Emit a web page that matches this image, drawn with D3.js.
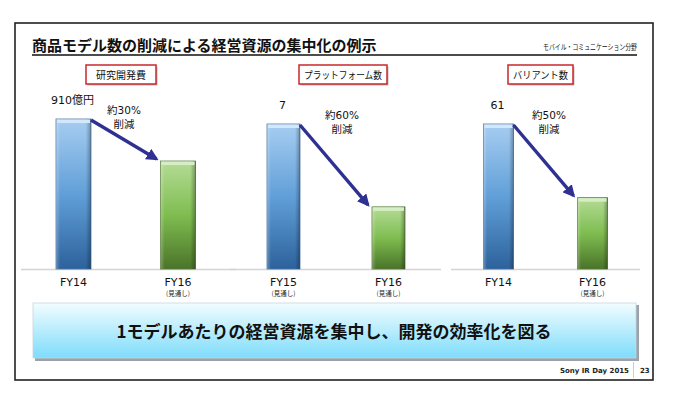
<!DOCTYPE html>
<html>
<head>
<meta charset="utf-8">
<script src="https://cdn.jsdelivr.net/npm/d3@7"></script>
<style>
  body { margin: 0; background: #fff; }
  svg { display: block; }
</style>
</head>
<body>
<svg width="673" height="394"></svg>
<script>

// chart data
var titleText = "商品モデル数の削減による経営資源の集中化の例示";
var sectionText = "モバイル・コミュニケーション分野";
var panelTitles = ["研究開発費", "プラットフォーム数", "バリアント数"];
var categories = [["FY14", "FY16"], ["FY15", "FY16"], ["FY14", "FY16"]];
var subLabels = [["", "(見通し)"], ["(見通し)", "(見通し)"], ["", "(見通し)"]];
var values = [[910, 655], [7, 3], [61, 30]];
var valueLabels = ["910億円", "7", "61"];
var reductionLabels = ["約30%", "約60%", "約50%"];
var bannerText = "1モデルあたりの経営資源を集中し、開発の効率化を図る";
var footerText = "Sony IR Day 2015";
var pageNumber = "23";

// layout for each small panel
var panels = [
  { range: [73.5, 178], top: 119, bw: 35, axis: [21, 236], box: [86, 156], note: 124 },
  { range: [283.5, 388.5], top: 124, bw: 33, axis: [230, 441], box: [299, 387], note: 342 },
  { range: [498.5, 592.5], top: 124, bw: 30, axis: [451, 640], box: [508, 573], note: 549 }
];

var svg = d3.select("svg"),
    baseY = 269,
    jp = "'Noto Sans CJK JP', sans-serif",
    latin = "'DejaVu Sans', 'Noto Sans CJK JP', sans-serif",
    arrowColor = "#2e3192";

var defs = svg.append("defs");

function vGrad(id, stops) {
  var g = defs.append("linearGradient").attr("id", id)
      .attr("x1", 0).attr("y1", 0).attr("x2", 0).attr("y2", 1);
  stops.forEach(function(s) {
    g.append("stop").attr("offset", s[0]).attr("stop-color", s[1]);
  });
}
function hGrad(id, stops) {
  var g = defs.append("linearGradient").attr("id", id)
      .attr("x1", 0).attr("y1", 0).attr("x2", 1).attr("y2", 0);
  stops.forEach(function(s) {
    g.append("stop").attr("offset", s[0]).attr("stop-color", s[1]).attr("stop-opacity", s[2]);
  });
}

vGrad("blueFill", [[0, "#a7cdf1"], [0.5, "#619fd8"], [1, "#2d629c"]]);
vGrad("greenFill", [[0, "#b4dc96"], [0.5, "#7fbd50"], [1, "#4a7429"]]);
vGrad("bannerFill", [[0, "#f2fdff"], [1, "#7edcfb"]]);
// side shading for the bevel look
hGrad("sideShade", [[0, "#ffffff", 0.25], [0.12, "#ffffff", 0.0], [0.85, "#000000", 0.0], [1, "#000000", 0.3]]);

defs.append("marker")
    .attr("id", "arrowHead")
    .attr("viewBox", "0 0 10 10")
    .attr("refX", 8).attr("refY", 5)
    .attr("markerWidth", 3.6).attr("markerHeight", 3.6)
    .attr("markerUnits", "strokeWidth")
    .attr("orient", "auto")
  .append("path")
    .attr("d", "M0,0 L10,5 L0,10 Z")
    .attr("fill", arrowColor);

// outer frame
svg.append("rect")
    .attr("x", 15).attr("y", 23)
    .attr("width", 638).attr("height", 357)
    .attr("fill", "none")
    .attr("stroke", "#222")
    .attr("stroke-width", 1.6);

// title + underline
svg.append("text")
    .attr("x", 32).attr("y", 51)
    .attr("font-family", jp)
    .attr("font-weight", "bold")
    .attr("font-size", 15)
    .attr("fill", "#111")
    .text(titleText);

svg.append("text")
    .attr("x", 637).attr("y", 50)
    .attr("text-anchor", "end")
    .attr("font-family", jp)
    .attr("font-size", 7.5)
    .attr("textLength", 94)
    .attr("lengthAdjust", "spacingAndGlyphs")
    .attr("fill", "#111")
    .text(sectionText);

svg.append("line")
    .attr("x1", 32).attr("x2", 637)
    .attr("y1", 55).attr("y2", 55)
    .attr("stroke", "#111")
    .attr("stroke-width", 1.4);

panels.forEach(function(p, i) {
  var g = svg.append("g").attr("class", "panel");

  var x = d3.scalePoint()
      .domain(categories[i])
      .range(p.range);

  var y = d3.scaleLinear()
      .domain([0, values[i][0]])
      .range([baseY, p.top]);

  // axis line
  g.append("line")
      .attr("x1", p.axis[0]).attr("x2", p.axis[1])
      .attr("y1", baseY + 0.5).attr("y2", baseY + 0.5)
      .attr("stroke", "#d4d4d4")
      .attr("stroke-width", 1.5);

  // panel title box
  var bx = g.append("g");
  bx.append("rect")
      .attr("x", p.box[0] + 1.5).attr("y", 66.5)
      .attr("width", p.box[1] - p.box[0]).attr("height", 19)
      .attr("fill", "#bbb");
  bx.append("rect")
      .attr("x", p.box[0]).attr("y", 65)
      .attr("width", p.box[1] - p.box[0]).attr("height", 19)
      .attr("fill", "#fff")
      .attr("stroke", "#c8282d")
      .attr("stroke-width", 1.5);
  var bt = bx.append("text")
      .attr("x", (p.box[0] + p.box[1]) / 2).attr("y", 78.5)
      .attr("text-anchor", "middle")
      .attr("font-family", jp)
      .attr("font-size", 10)
      .attr("fill", "#111")
      .text(panelTitles[i]);
  var avail = p.box[1] - p.box[0] - 10;
  if (bt.node().getComputedTextLength() > avail) {
    bt.attr("textLength", avail).attr("lengthAdjust", "spacingAndGlyphs");
  }

  // bars
  var bars = g.selectAll(".bar")
      .data(values[i])
      .enter().append("g")
      .attr("class", "bar");

  bars.append("rect")
      .attr("x", function(d, j) { return x(categories[i][j]) - p.bw / 2; })
      .attr("y", function(d) { return y(d); })
      .attr("width", p.bw)
      .attr("height", function(d) { return baseY - y(d); })
      .attr("fill", function(d, j) { return j === 0 ? "url(#blueFill)" : "url(#greenFill)"; })
      .attr("stroke", function(d, j) { return j === 0 ? "#4a76a3" : "#55783a"; })
      .attr("stroke-width", 0.8);

  bars.append("rect")
      .attr("x", function(d, j) { return x(categories[i][j]) - p.bw / 2; })
      .attr("y", function(d) { return y(d); })
      .attr("width", p.bw)
      .attr("height", function(d) { return baseY - y(d); })
      .attr("fill", "url(#sideShade)");

  // top bevel cap
  bars.append("rect")
      .attr("x", function(d, j) { return x(categories[i][j]) - p.bw / 2 + 1; })
      .attr("y", function(d) { return y(d) + 0.5; })
      .attr("width", p.bw - 2)
      .attr("height", 3.5)
      .attr("fill", function(d, j) { return j === 0 ? "#d3e8fb" : "#d6eec4"; });

  // category labels
  var lab = g.selectAll(".cat")
      .data(categories[i])
      .enter().append("g")
      .attr("class", "cat");

  lab.append("text")
      .attr("x", function(d) { return x(d); })
      .attr("y", 286)
      .attr("text-anchor", "middle")
      .attr("font-family", latin)
      .attr("font-size", 11)
      .attr("fill", "#111")
      .text(function(d) { return d; });

  lab.append("text")
      .attr("x", function(d) { return x(d); })
      .attr("y", 296)
      .attr("text-anchor", "middle")
      .attr("font-family", jp)
      .attr("font-size", 6.5)
      .attr("fill", "#222")
      .text(function(d, j) { return subLabels[i][j]; });

  // value label above first bar
  g.append("text")
      .attr("x", x(categories[i][0]) - 1)
      .attr("y", y(values[i][0]) - 15)
      .attr("text-anchor", "middle")
      .attr("font-family", latin)
      .attr("font-size", 11)
      .attr("fill", "#111")
      .text(valueLabels[i]);

  // reduction note, two lines
  g.append("text")
      .attr("x", p.note)
      .attr("y", y(values[i][0]) - 5)
      .attr("text-anchor", "middle")
      .attr("font-family", latin)
      .attr("font-size", 10.5)
      .attr("fill", "#111")
      .text(reductionLabels[i]);
  g.append("text")
      .attr("x", p.note)
      .attr("y", y(values[i][0]) + 9)
      .attr("text-anchor", "middle")
      .attr("font-family", jp)
      .attr("font-size", 10.5)
      .attr("fill", "#111")
      .text("削減");

  // arrow from first bar to second bar
  var xa = x(categories[i][0]) + p.bw / 2,
      xb = x(categories[i][1]) - p.bw / 2;
  g.append("line")
      .attr("x1", xa).attr("y1", y(values[i][0]) + 1)
      .attr("x2", xb - 4).attr("y2", y(values[i][1]) - 2)
      .attr("stroke", arrowColor)
      .attr("stroke-width", 3.4)
      .attr("marker-end", "url(#arrowHead)");
});

// banner
svg.append("rect")
    .attr("x", 35).attr("y", 305)
    .attr("width", 604).attr("height", 56)
    .attr("fill", "#9aa3ab");
svg.append("rect")
    .attr("x", 33).attr("y", 303)
    .attr("width", 603).attr("height", 55)
    .attr("fill", "url(#bannerFill)")
    .attr("stroke", "#c5d6de")
    .attr("stroke-width", 0.8);
svg.append("text")
    .attr("x", 334).attr("y", 338)
    .attr("text-anchor", "middle")
    .attr("font-family", jp)
    .attr("font-weight", "bold")
    .attr("font-size", 17)
    .attr("fill", "#111")
    .text(bannerText);

// footer
svg.append("text")
    .attr("x", 629).attr("y", 373)
    .attr("text-anchor", "end")
    .attr("font-family", latin)
    .attr("font-weight", "bold")
    .attr("font-size", 7)
    .attr("fill", "#222")
    .text(footerText);
svg.append("line")
    .attr("x1", 633.5).attr("x2", 633.5)
    .attr("y1", 362).attr("y2", 378)
    .attr("stroke", "#ccc");
svg.append("text")
    .attr("x", 640).attr("y", 373)
    .attr("font-family", latin)
    .attr("font-weight", "bold")
    .attr("font-size", 7)
    .attr("fill", "#222")
    .text(pageNumber);

</script>
</body>
</html>
